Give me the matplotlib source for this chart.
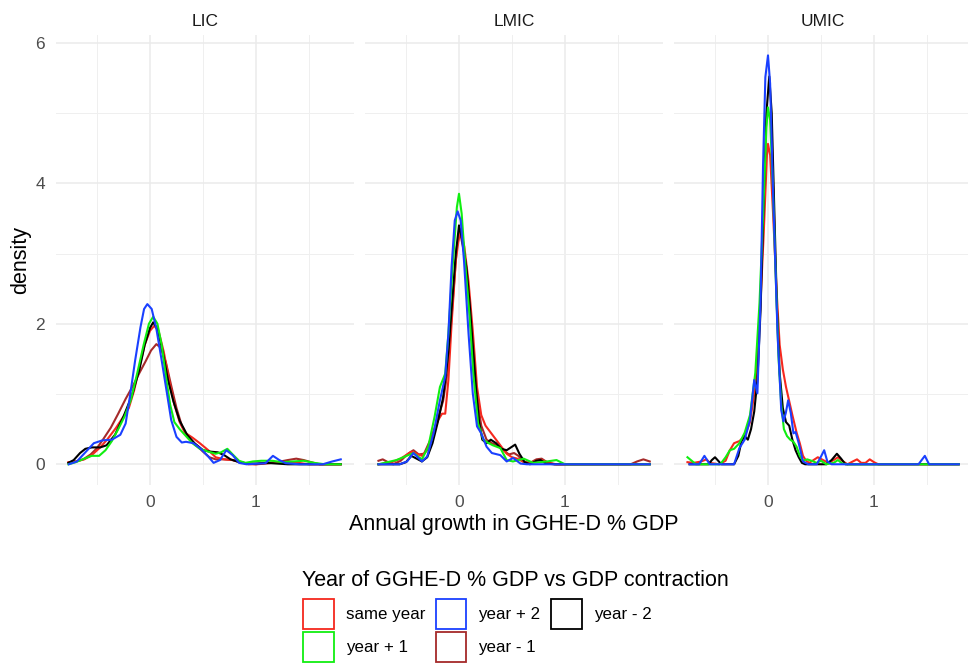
import matplotlib
matplotlib.use("Agg")
import matplotlib.pyplot as plt
from matplotlib.patches import Patch

plt.rcParams['font.family'] = ['Liberation Sans', 'DejaVu Sans']

# Panels and series
panels = ['LIC', 'LMIC', 'UMIC']
series = ['same year', 'year + 1', 'year + 2', 'year - 1', 'year - 2']
colors = {'same year': '#F5281E', 'year + 1': '#10EE10', 'year + 2': '#1A40FF',
          'year - 1': '#A52A2A', 'year - 2': '#000000'}

# ---- LIC ----
lic_same_x = [-0.77, -0.7, -0.62, -0.55, -0.47, -0.4, -0.32, -0.25, -0.2, -0.15, -0.1, -0.05, 0.0, 0.04,
              0.08, 0.13, 0.18, 0.23, 0.28, 0.33, 0.4, 0.47, 0.55, 0.62, 0.7, 0.78, 0.86, 0.93, 1.0, 1.1,
              1.2, 1.3, 1.4, 1.5, 1.8]
lic_same_y = [0.03, 0.04, 0.07, 0.13, 0.24, 0.36, 0.52, 0.68, 0.8, 1.05, 1.38, 1.7, 1.9, 1.97,
              1.9, 1.6, 1.2, 0.85, 0.6, 0.45, 0.38, 0.3, 0.2, 0.1, 0.07, 0.06, 0.03, 0.0, 0.0, 0.02,
              0.03, 0.03, 0.02, 0.0, 0.0]
lic_p1_x = [-0.77, -0.7, -0.62, -0.55, -0.48, -0.42, -0.36, -0.3, -0.24, -0.18, -0.12, -0.06, -0.01, 0.03,
            0.07, 0.11, 0.15, 0.19, 0.23, 0.28, 0.34, 0.4, 0.47, 0.55, 0.62, 0.67, 0.73, 0.78, 0.84, 0.9,
            0.97, 1.05, 1.15, 1.25, 1.35, 1.45, 1.55, 1.65, 1.8]
lic_p1_y = [0.0, 0.03, 0.08, 0.12, 0.12, 0.2, 0.33, 0.5, 0.68, 0.92, 1.3, 1.7, 2.0, 2.1,
            2.0, 1.7, 1.25, 0.85, 0.6, 0.5, 0.4, 0.3, 0.22, 0.18, 0.15, 0.17, 0.22, 0.14, 0.05, 0.02,
            0.04, 0.05, 0.05, 0.03, 0.04, 0.05, 0.02, 0.0, 0.0]
lic_p2_x = [-0.766, -0.69, -0.61, -0.53, -0.45, -0.36, -0.28, -0.23, -0.19, -0.14, -0.09, -0.056, -0.025,
            0.016, 0.06, 0.11, 0.16, 0.2, 0.25, 0.3, 0.34, 0.41, 0.48, 0.55, 0.6, 0.66, 0.72, 0.78, 0.84,
            0.91, 1.09, 1.16, 1.22, 1.28, 1.41, 1.63, 1.72, 1.8]
lic_p2_y = [0.0, 0.04, 0.17, 0.3, 0.34, 0.35, 0.42, 0.58, 0.96, 1.48, 1.95, 2.21, 2.28,
            2.21, 1.93, 1.48, 1.01, 0.63, 0.39, 0.31, 0.32, 0.3, 0.22, 0.11, 0.02, 0.06, 0.2, 0.13, 0.02,
            0.0, 0.015, 0.12, 0.06, 0.015, 0.0, 0.0, 0.04, 0.07]
lic_m1_x = [-0.77, -0.7, -0.63, -0.56, -0.5, -0.44, -0.37, -0.3, -0.23, -0.16, -0.1, -0.04, 0.01, 0.06,
            0.1, 0.15, 0.2, 0.25, 0.3, 0.36, 0.43, 0.5, 0.56, 0.62, 0.7, 0.78, 0.85, 0.93, 1.0, 1.1,
            1.2, 1.3, 1.38, 1.45, 1.52, 1.6, 1.8]
lic_m1_y = [0.02, 0.04, 0.07, 0.14, 0.23, 0.36, 0.52, 0.72, 0.93, 1.12, 1.3, 1.47, 1.62, 1.71,
            1.66, 1.45, 1.12, 0.8, 0.55, 0.38, 0.28, 0.18, 0.1, 0.07, 0.07, 0.06, 0.03, 0.01, 0.0, 0.01,
            0.03, 0.06, 0.08, 0.06, 0.03, 0.0, 0.0]
lic_m2_x = [-0.77, -0.72, -0.66, -0.61, -0.55, -0.47, -0.41, -0.33, -0.25, -0.17, -0.1, -0.05, 0.0, 0.03,
            0.07, 0.12, 0.17, 0.22, 0.28, 0.35, 0.42, 0.5, 0.57, 0.64, 0.7, 0.76, 0.84, 0.92, 1.0, 1.1,
            1.2, 1.3, 1.8]
lic_m2_y = [0.02, 0.06, 0.16, 0.22, 0.24, 0.24, 0.27, 0.42, 0.68, 0.98, 1.35, 1.7, 1.94, 2.02,
            1.93, 1.6, 1.2, 0.9, 0.62, 0.42, 0.3, 0.2, 0.18, 0.17, 0.13, 0.07, 0.03, 0.01, 0.01, 0.02,
            0.01, 0.0, 0.0]

# ---- LMIC ----
lmic_same_x = [-0.76, -0.65, -0.55, -0.45, -0.4, -0.35, -0.3, -0.25, -0.2, -0.16, -0.13, -0.1, -0.07,
               -0.03, 0.01, 0.05, 0.09, 0.13, 0.17, 0.21, 0.25, 0.3, 0.35, 0.4, 0.45, 0.5, 0.55, 0.6,
               0.67, 0.73, 0.78, 0.85, 0.92, 1.8]
lmic_same_y = [0.0, 0.02, 0.08, 0.18, 0.15, 0.12, 0.2, 0.4, 0.62, 0.72, 0.72, 1.2, 2.0,
               2.9, 3.35, 3.1, 2.6, 1.9, 1.1, 0.7, 0.55, 0.45, 0.35, 0.25, 0.15, 0.1, 0.08, 0.04,
               0.02, 0.05, 0.06, 0.02, 0.0, 0.0]
lmic_p1_x = [-0.76, -0.59, -0.43, -0.35, -0.29, -0.23, -0.18, -0.13, -0.1, -0.06, -0.02, 0.0, 0.025,
             0.057, 0.1, 0.135, 0.18, 0.23, 0.28, 0.32, 0.39, 0.45, 0.51, 0.61, 0.7, 0.83, 0.92, 1.0, 1.8]
lmic_p1_y = [0.0, 0.06, 0.16, 0.07, 0.25, 0.68, 1.1, 1.29, 1.86, 2.81, 3.66, 3.85, 3.57,
             2.9, 2.1, 1.29, 0.58, 0.35, 0.3, 0.27, 0.23, 0.06, 0.04, 0.08, 0.02, 0.04, 0.06, 0.0, 0.0]
lmic_p2_x = [-0.76, -0.56, -0.49, -0.43, -0.35, -0.3, -0.24, -0.18, -0.13, -0.1, -0.07, -0.04, -0.013,
             0.016, 0.047, 0.09, 0.13, 0.17, 0.21, 0.26, 0.31, 0.39, 0.45, 0.51, 0.58, 0.64, 1.8]
lmic_p2_y = [0.0, 0.0, 0.04, 0.16, 0.04, 0.11, 0.44, 0.91, 1.25, 1.86, 2.81, 3.47, 3.6,
             3.47, 2.9, 1.86, 1.01, 0.54, 0.44, 0.25, 0.16, 0.13, 0.04, 0.09, 0.01, 0.0, 0.0]
lmic_m1_x = [-0.76, -0.72, -0.67, -0.62, -0.55, -0.48, -0.43, -0.38, -0.33, -0.27, -0.21, -0.15, -0.11,
             -0.06, -0.02, 0.01, 0.05, 0.09, 0.13, 0.17, 0.21, 0.26, 0.31, 0.36, 0.42, 0.47, 0.52, 0.56,
             0.61, 0.67, 0.73, 0.78, 0.83, 0.9, 1.62, 1.68, 1.74, 1.8]
lmic_m1_y = [0.05, 0.07, 0.03, 0.0, 0.05, 0.15, 0.2, 0.14, 0.15, 0.35, 0.6, 0.9, 1.3,
             2.3, 3.1, 3.3, 3.0, 2.4, 1.6, 0.95, 0.55, 0.35, 0.3, 0.27, 0.2, 0.14, 0.16, 0.12,
             0.03, 0.02, 0.07, 0.08, 0.03, 0.0, 0.0, 0.04, 0.07, 0.04]
lmic_m2_x = [-0.76, -0.56, -0.5, -0.45, -0.4, -0.35, -0.3, -0.25, -0.2, -0.15, -0.1, -0.06, -0.03, 0.0,
             0.03, 0.07, 0.1, 0.13, 0.16, 0.19, 0.22, 0.26, 0.3, 0.35, 0.4, 0.45, 0.5, 0.53, 0.57, 0.62,
             0.67, 0.73, 0.77, 0.82, 0.9, 1.8]
lmic_m2_y = [0.0, 0.0, 0.03, 0.12, 0.08, 0.04, 0.1, 0.3, 0.6, 0.95, 1.6, 2.4, 3.0, 3.4,
             3.2, 2.8, 2.3, 1.7, 1.1, 0.6, 0.35, 0.3, 0.35, 0.3, 0.22, 0.2, 0.25, 0.28, 0.15, 0.03,
             0.0, 0.05, 0.06, 0.01, 0.0, 0.0]

# ---- UMIC ----
umic_same_x = [-0.76, -0.7, -0.63, -0.58, -0.55, -0.46, -0.4, -0.36, -0.32, -0.27, -0.22, -0.17, -0.12,
               -0.08, -0.04, -0.01, 0.0, 0.02, 0.05, 0.08, 0.11, 0.14, 0.17, 0.2, 0.23, 0.27, 0.3, 0.33,
               0.36, 0.39, 0.43, 0.47, 0.52, 0.57, 0.62, 0.66, 0.7, 0.75, 0.8, 0.84, 0.88, 0.92, 0.96,
               1.0, 1.04, 1.8]
umic_same_y = [0.03, 0.02, 0.04, 0.07, 0.02, 0.0, 0.05, 0.2, 0.3, 0.33, 0.4, 0.6, 1.1,
               2.0, 3.3, 4.4, 4.56, 4.4, 3.5, 2.5, 1.7, 1.35, 1.1, 0.9, 0.7, 0.45, 0.3, 0.12,
               0.05, 0.02, 0.06, 0.1, 0.06, 0.02, 0.06, 0.1, 0.05, 0.0, 0.04, 0.07, 0.02, 0.02, 0.07,
               0.03, 0.0, 0.0]
umic_p1_x = [-0.76, -0.72, -0.68, -0.45, -0.4, -0.36, -0.32, -0.27, -0.22, -0.17, -0.12, -0.08, -0.045,
             -0.015, 0.0, 0.02, 0.045, 0.07, 0.1, 0.125, 0.15, 0.18, 0.21, 0.24, 0.27, 0.3, 0.33, 0.37,
             0.41, 0.46, 0.5, 0.55, 0.62, 0.66, 0.7, 0.75, 1.8]
umic_p1_y = [0.1, 0.05, 0.0, 0.0, 0.1, 0.2, 0.22, 0.3, 0.45, 0.7, 1.3, 2.3, 3.6,
             4.8, 5.08, 4.9, 4.0, 2.8, 1.5, 0.85, 0.5, 0.4, 0.35, 0.32, 0.25, 0.12, 0.05, 0.07,
             0.05, 0.02, 0.05, 0.0, 0.02, 0.06, 0.01, 0.0, 0.0]
umic_p2_x = [-0.74, -0.65, -0.6, -0.55, -0.32, -0.27, -0.22, -0.17, -0.13, -0.1, -0.07, -0.047, -0.025,
             0.0, 0.02, 0.05, 0.09, 0.125, 0.146, 0.168, 0.19, 0.215, 0.24, 0.26, 0.29, 0.33, 0.38,
             0.46, 0.5, 0.53, 0.56, 0.6, 1.42, 1.48, 1.52, 1.8]
umic_p2_y = [0.0, 0.0, 0.12, 0.0, 0.0, 0.23, 0.35, 0.63, 1.2, 1.01, 2.34, 4.23, 5.51,
             5.82, 5.42, 3.76, 1.86, 0.77, 0.61, 0.73, 0.91, 0.73, 0.44, 0.46, 0.3, 0.04, 0.0,
             0.0, 0.11, 0.2, 0.04, 0.0, 0.0, 0.12, 0.0, 0.0]
umic_m2_x = [-0.74, -0.56, -0.53, -0.5, -0.47, -0.44, -0.32, -0.28, -0.25, -0.22, -0.19, -0.16, -0.13,
             -0.1, -0.07, -0.04, -0.015, 0.012, 0.035, 0.06, 0.085, 0.11, 0.14, 0.17, 0.2, 0.23, 0.26,
             0.29, 0.32, 0.35, 0.55, 0.6, 0.65, 0.69, 0.73, 1.8]
umic_m2_y = [0.0, 0.0, 0.06, 0.1, 0.05, 0.0, 0.0, 0.12, 0.33, 0.4, 0.35, 0.5, 0.75,
             1.2, 2.2, 3.8, 5.0, 5.52, 5.0, 3.6, 2.2, 1.3, 0.8, 0.6, 0.55, 0.35, 0.2,
             0.1, 0.02, 0.0, 0.0, 0.06, 0.15, 0.08, 0.0, 0.0]

curves = {
    'LIC': {'year - 1': (lic_m1_x, lic_m1_y), 'same year': (lic_same_x, lic_same_y),
            'year - 2': (lic_m2_x, lic_m2_y), 'year + 1': (lic_p1_x, lic_p1_y),
            'year + 2': (lic_p2_x, lic_p2_y)},
    'LMIC': {'year - 1': (lmic_m1_x, lmic_m1_y), 'same year': (lmic_same_x, lmic_same_y),
             'year - 2': (lmic_m2_x, lmic_m2_y), 'year + 1': (lmic_p1_x, lmic_p1_y),
             'year + 2': (lmic_p2_x, lmic_p2_y)},
    'UMIC': {'same year': (umic_same_x, umic_same_y), 'year - 2': (umic_m2_x, umic_m2_y),
             'year + 1': (umic_p1_x, umic_p1_y), 'year + 2': (umic_p2_x, umic_p2_y)},
}

W, H = 968, 665
fig = plt.figure(figsize=(W / 100, H / 100), dpi=100)

lefts = [56, 365, 674]
for i, p in enumerate(panels):
    ax = fig.add_axes([lefts[i] / W, (H - 485) / H, 298 / W, 450 / H])
    for s, (xs, ys) in curves[p].items():
        ax.plot(xs, ys, color=colors[s], lw=1.5, solid_joinstyle='round')
    ax.set_xlim(-0.887, 1.925)
    ax.set_ylim(-0.295, 6.11)
    ax.set_xticks([0, 1])
    ax.set_xticks([-0.5, 0.5, 1.5], minor=True)
    ax.set_yticks([0, 2, 4, 6])
    ax.set_yticks([1, 3, 5], minor=True)
    ax.grid(which='major', color='#EBEBEB', lw=1.1)
    ax.grid(which='minor', color='#EFEFEF', lw=0.7)
    ax.set_axisbelow(True)
    for sp in ax.spines.values():
        sp.set_visible(False)
    ax.tick_params(which='both', length=0, labelsize=12.5, labelcolor='#4D4D4D')
    ax.tick_params(axis='x', pad=7)
    ax.tick_params(axis='y', pad=8)
    if i > 0:
        ax.tick_params(axis='y', labelleft=False)
    ax.text(0.5, 1.02, p, transform=ax.transAxes, ha='center', va='baseline',
            fontsize=12.5, color='#1A1A1A')

fig.text(21 / W, 1 - 260 / H, 'density', rotation=90, ha='center', va='center', fontsize=15.5)
fig.text(514 / W, 1 - 530 / H, 'Annual growth in GGHE-D % GDP', ha='center', va='baseline',
         fontsize=15.5)

# legend: title as its own text, keys below it
fig.text(302 / W, 1 - 586 / H, 'Year of GGHE-D % GDP vs GDP contraction', ha='left',
         va='baseline', fontsize=15.5)
handles = [Patch(facecolor='white', edgecolor=colors[s], lw=1.3) for s in series]
fig.legend(handles, series, loc='upper left', bbox_to_anchor=(303 / W, 1 - 599 / H), ncol=3,
           frameon=False, fontsize=12.2, handlelength=1.82, handleheight=2.37, handletextpad=0.7,
           columnspacing=0.62, labelspacing=0.17, borderpad=0, borderaxespad=0)

fig.savefig('out.png', dpi=100, facecolor='white')
